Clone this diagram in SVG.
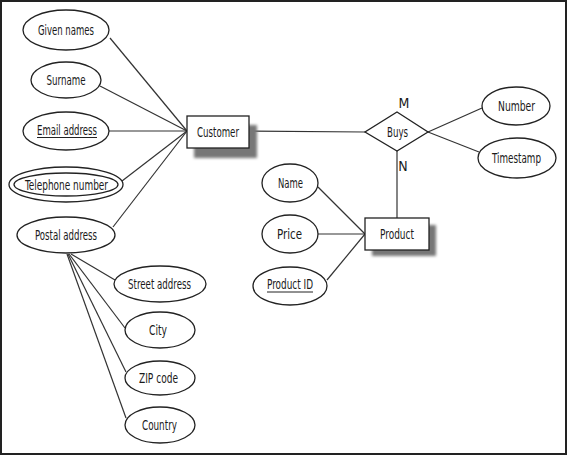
<svg xmlns="http://www.w3.org/2000/svg" width="567" height="455" viewBox="0 0 567 455">
<defs>
<filter id="sh" x="-20%" y="-30%" width="140%" height="160%"><feGaussianBlur stdDeviation="1.8"/></filter>
</defs>
<style>
.at{fill:#fff;stroke:#222;stroke-width:1.3}
.ent{fill:#fff;stroke:#222;stroke-width:1.3}
.shd{fill:#777;filter:url(#sh)}
.t{font-family:"Liberation Sans Narrow","DejaVu Sans Condensed","Liberation Sans",sans-serif;font-size:14px;fill:#1a1a1a;text-anchor:middle}
.u{stroke:#222;stroke-width:1}
#connectors line{stroke:#333;stroke-width:1.2}
</style>
<rect x="0" y="0" width="567" height="455" fill="#fff"/>
<rect x="1" y="1" width="565" height="453" fill="none" stroke="#222" stroke-width="2"/>
<g id="connectors">
<line x1="110" y1="38" x2="187" y2="131"/>
<line x1="100" y1="86" x2="187" y2="131"/>
<line x1="109" y1="131" x2="187" y2="131"/>
<line x1="122" y1="181" x2="187" y2="131"/>
<line x1="113" y1="227" x2="187" y2="131"/>
<line x1="249" y1="131" x2="365" y2="132"/>
<line x1="428" y1="132" x2="482" y2="108"/>
<line x1="428" y1="132" x2="479" y2="152"/>
<line x1="397" y1="151" x2="397" y2="218"/>
<line x1="318" y1="187" x2="365" y2="234"/>
<line x1="318" y1="234" x2="365" y2="234"/>
<line x1="327" y1="280" x2="365" y2="234"/>
<line x1="71" y1="254" x2="115" y2="280"/>
<line x1="69" y1="254" x2="125" y2="328"/>
<line x1="68" y1="254" x2="126" y2="372"/>
<line x1="67" y1="254" x2="126" y2="418"/>
</g>
<g id="given-names"><ellipse class="at" cx="66" cy="30" rx="43" ry="20"/><text class="t" x="66" y="35" textLength="56" lengthAdjust="spacingAndGlyphs">Given names</text></g>
<g id="surname"><ellipse class="at" cx="66" cy="80" rx="35" ry="18"/><text class="t" x="66" y="85" textLength="39" lengthAdjust="spacingAndGlyphs">Surname</text></g>
<g id="email-address"><ellipse class="at" cx="66" cy="131" rx="43" ry="19"/><text class="t" x="67" y="135" textLength="60" lengthAdjust="spacingAndGlyphs">Email address</text><line class="u" x1="37" y1="137.5" x2="97" y2="137.5"/></g>
<g id="telephone-number"><ellipse class="at" cx="66" cy="184.5" rx="57" ry="17.5"/><ellipse class="at" cx="66" cy="184.5" rx="52" ry="11.5"/><text class="t" x="66.5" y="189.5" textLength="83" lengthAdjust="spacingAndGlyphs">Telephone number</text></g>
<g id="postal-address"><ellipse class="at" cx="66" cy="235" rx="49" ry="18"/><text class="t" x="66" y="240" textLength="62" lengthAdjust="spacingAndGlyphs">Postal address</text></g>
<g id="customer"><rect class="shd" x="194" y="125" width="63" height="33"/><rect class="ent" x="187" y="116" width="62" height="32"/><text class="t" x="218" y="137" textLength="42" lengthAdjust="spacingAndGlyphs">Customer</text></g>
<g id="buys"><polygon class="ent" points="397,112 428,132 397,151 365,132"/><text class="t" x="397.5" y="137" textLength="21" lengthAdjust="spacingAndGlyphs">Buys</text><text class="t" x="404" y="108">M</text><text class="t" x="403" y="171">N</text></g>
<g id="number"><ellipse class="at" cx="516" cy="106" rx="34" ry="19"/><text class="t" x="516.5" y="110.5" textLength="37" lengthAdjust="spacingAndGlyphs">Number</text></g>
<g id="timestamp"><ellipse class="at" cx="517" cy="158" rx="39" ry="20"/><text class="t" x="516.5" y="162.5" textLength="49" lengthAdjust="spacingAndGlyphs">Timestamp</text></g>
<g id="product"><rect class="shd" x="372" y="225" width="64" height="31"/><rect class="ent" x="365" y="218" width="64" height="32"/><text class="t" x="397" y="238.5" textLength="34" lengthAdjust="spacingAndGlyphs">Product</text></g>
<g id="name"><ellipse class="at" cx="290" cy="183" rx="28" ry="19"/><text class="t" x="290.5" y="188" textLength="25" lengthAdjust="spacingAndGlyphs">Name</text></g>
<g id="price"><ellipse class="at" cx="290" cy="234" rx="28" ry="19"/><text class="t" x="289.5" y="238.5" textLength="25" lengthAdjust="spacingAndGlyphs">Price</text></g>
<g id="product-id"><ellipse class="at" cx="290" cy="286" rx="37" ry="19"/><text class="t" x="290" y="289" textLength="46" lengthAdjust="spacingAndGlyphs">Product ID</text><line class="u" x1="267" y1="292" x2="313" y2="292"/></g>
<g id="street-address"><ellipse class="at" cx="160" cy="284" rx="46" ry="18"/><text class="t" x="159.5" y="288.5" textLength="63" lengthAdjust="spacingAndGlyphs">Street address</text></g>
<g id="city"><ellipse class="at" cx="160" cy="330" rx="35" ry="18"/><text class="t" x="158" y="335" textLength="18" lengthAdjust="spacingAndGlyphs">City</text></g>
<g id="zip-code"><ellipse class="at" cx="160" cy="378" rx="35" ry="17"/><text class="t" x="158.5" y="382.5" textLength="39" lengthAdjust="spacingAndGlyphs">ZIP code</text></g>
<g id="country"><ellipse class="at" cx="160" cy="425" rx="35" ry="18"/><text class="t" x="159.5" y="430" textLength="35" lengthAdjust="spacingAndGlyphs">Country</text></g>
</svg>
